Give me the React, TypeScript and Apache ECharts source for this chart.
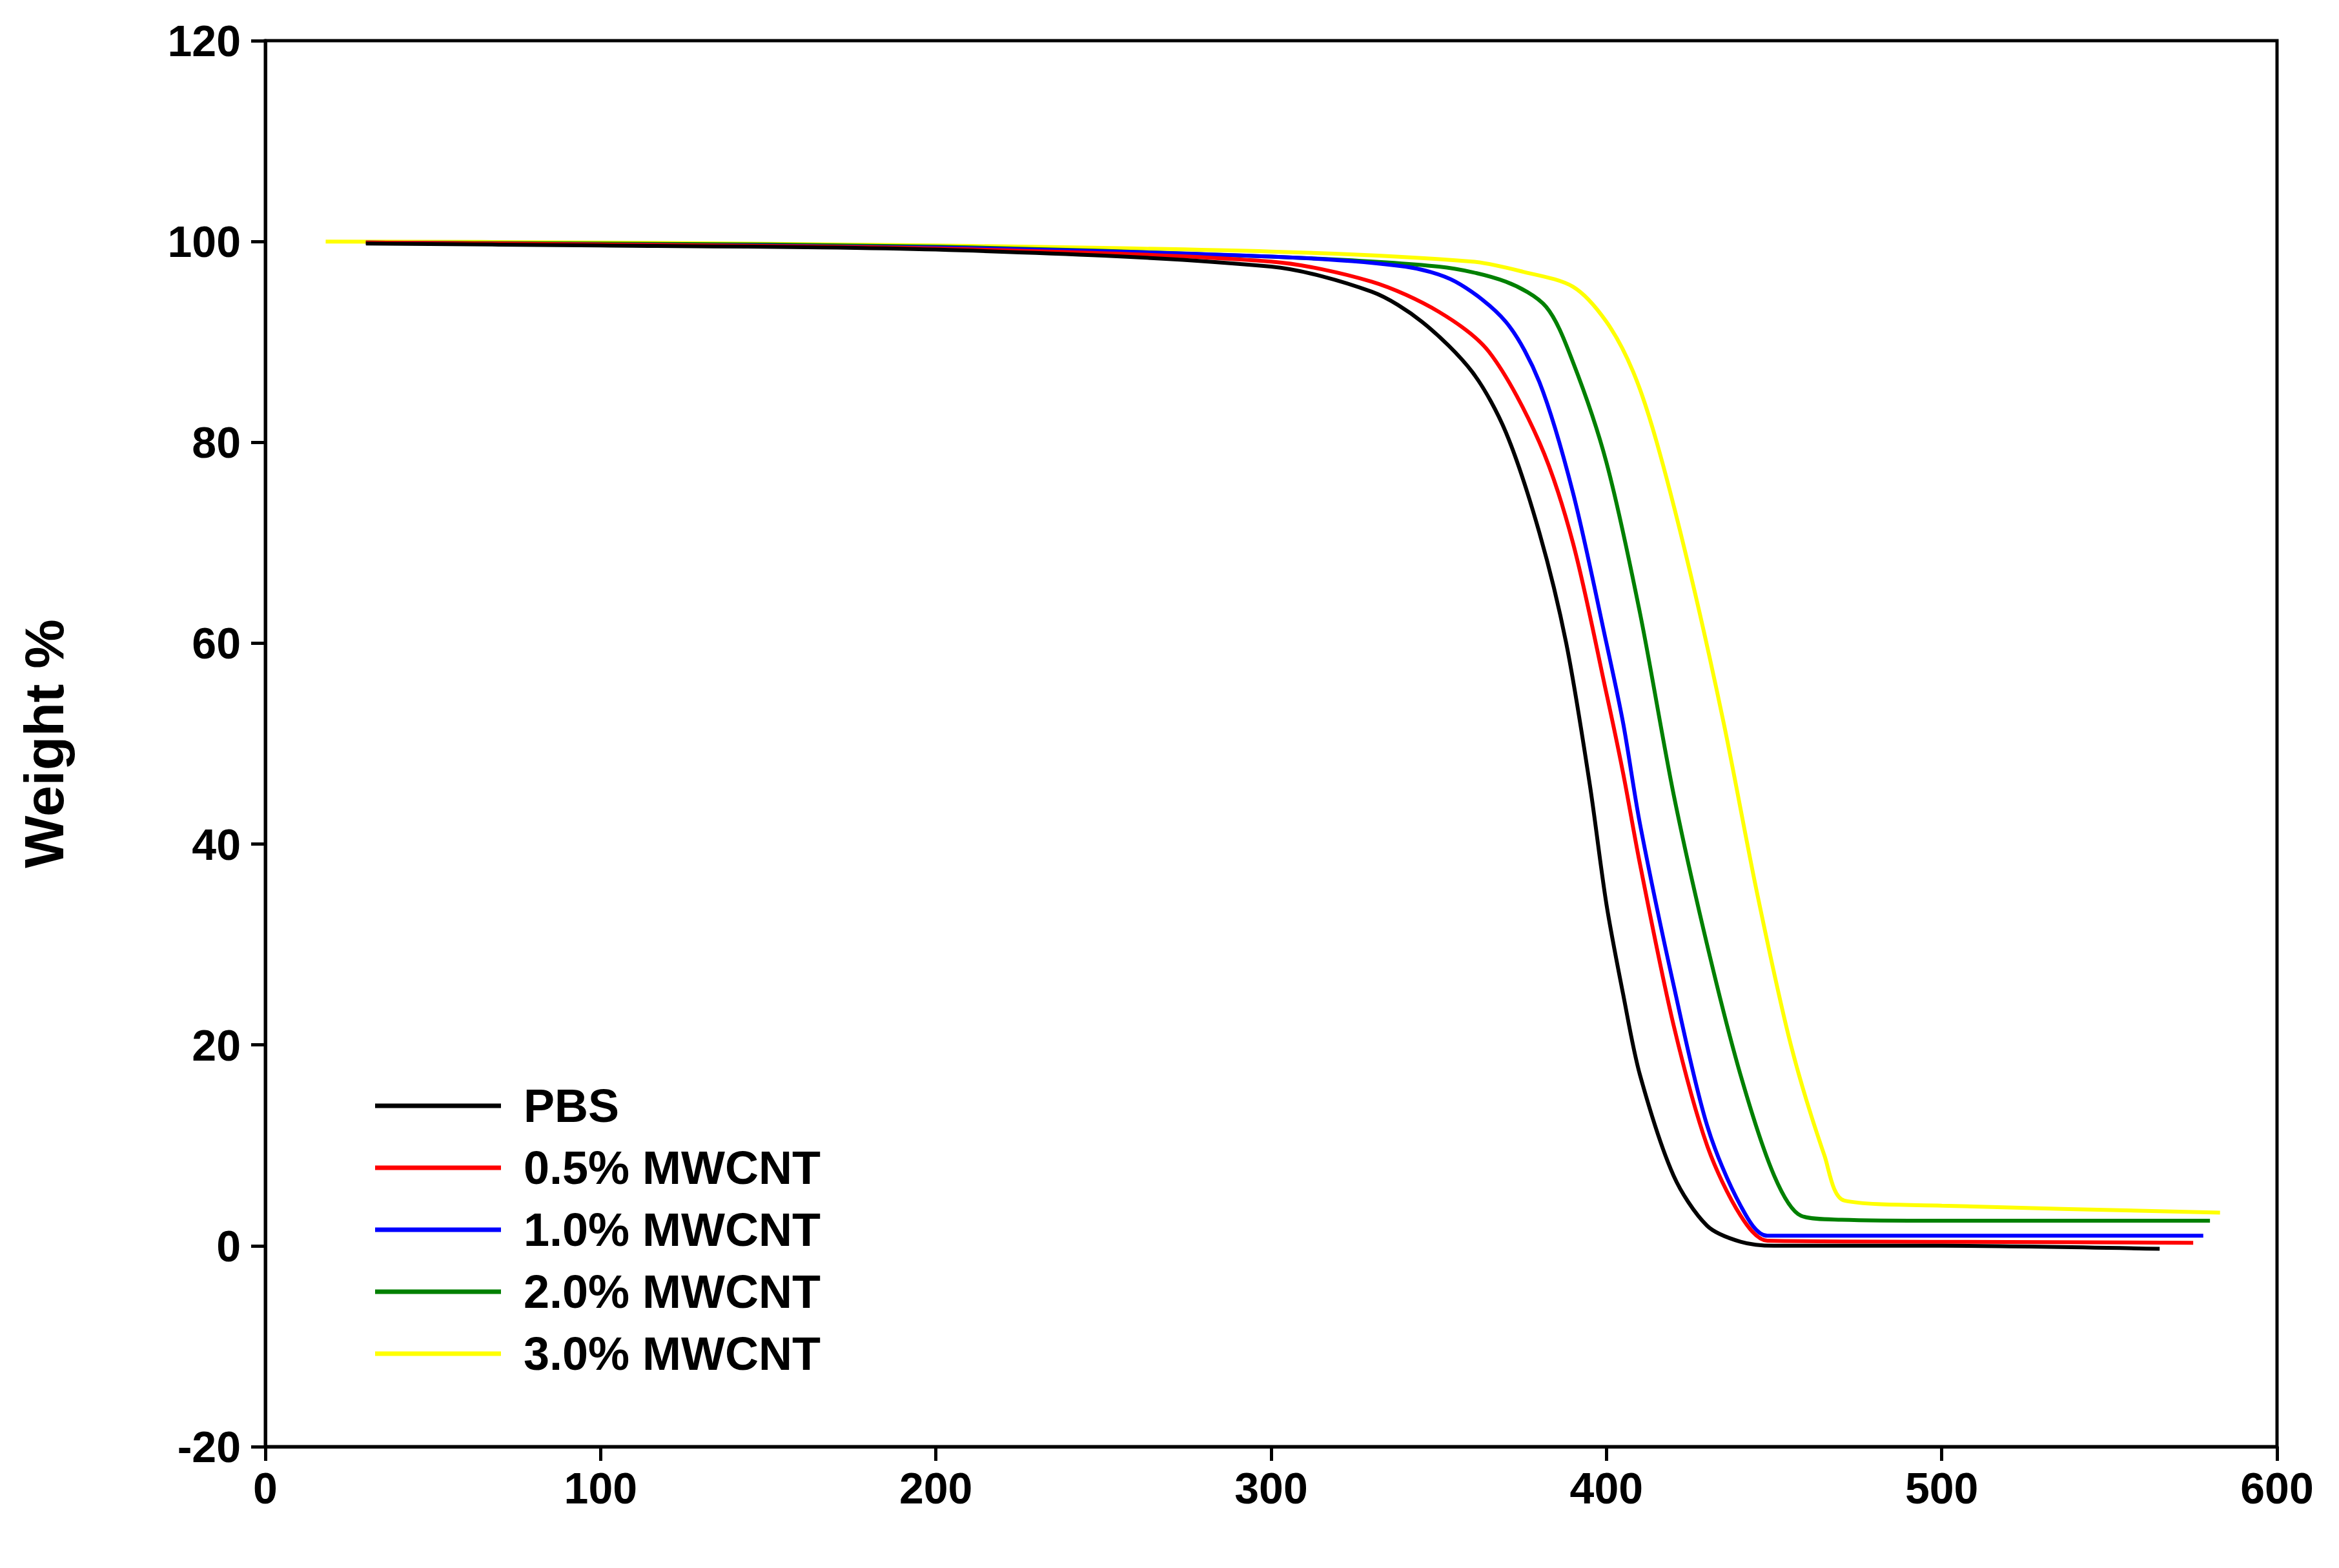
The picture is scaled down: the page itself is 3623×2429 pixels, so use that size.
import { useEffect, useRef } from 'react';
import * as echarts from 'echarts';

const seriesNames = ['PBS', '0.5% MWCNT', '1.0% MWCNT', '2.0% MWCNT', '3.0% MWCNT'];
const seriesColors = ['#000000', '#ff0000', '#0000ff', '#008000', '#ffff00'];

// [temperature, weight %]
const pbs = [
  [30, 99.8], [100, 99.6], [200, 99.2], [300, 97.5], [330, 95], [345, 92], [360, 87], [370, 81],
  [380, 71], [388, 60], [395, 46], [400, 34], [405, 25], [410, 17], [420, 7], [430, 2],
  [440, 0.4], [450, 0], [500, 0], [565, -0.3],
];
const mw05 = [
  [30, 99.9], [100, 99.7], [200, 99.3], [300, 98], [330, 96], [350, 93], [365, 89], [380, 80],
  [390, 70], [400, 55], [405, 47], [410, 38], [420, 22], [430, 10], [440, 3], [448, 0.5],
  [500, 0.4], [575, 0.3],
];
const mw10 = [
  [30, 99.9], [100, 99.7], [200, 99.4], [300, 98.5], [340, 97.5], [355, 96], [370, 92], [380, 86],
  [390, 75], [400, 60], [405, 52], [410, 42], [420, 26], [430, 12], [440, 4], [448, 1],
  [500, 1], [578, 1],
];
const mw20 = [
  [30, 99.9], [100, 99.8], [200, 99.5], [300, 98.5], [350, 97.5], [370, 96], [382, 93.5], [390, 88],
  [400, 78], [410, 63], [420, 45], [430, 30], [440, 17], [450, 7], [458, 3], [470, 2.6],
  [500, 2.5], [580, 2.5],
];
const mw30 = [
  [18, 100], [100, 99.9], [200, 99.6], [300, 99], [360, 98], [375, 97], [390, 95.5], [400, 92],
  [408, 87], [415, 80], [425, 67], [435, 52], [445, 35], [455, 20], [465, 9], [471, 4.5],
  [500, 4], [583, 3.3],
];
const seriesData = [pbs, mw05, mw10, mw20, mw30];

const font = 'Arial, "Liberation Sans", sans-serif';

export default function App() {
  const ref = useRef<HTMLDivElement>(null);

  useEffect(() => {
    document.body.style.margin = '0';
    if (!ref.current) return;
    const chart = echarts.init(ref.current, null, { renderer: 'svg' });
    const label = { color: '#000', fontSize: 68, fontWeight: 'bold' as const, fontFamily: font };
    chart.setOption({
      animation: false,
      backgroundColor: '#fff',
      grid: { left: 411, right: 96, top: 63, bottom: 188, show: true, borderColor: '#000', borderWidth: 5 },
      legend: {
        orient: 'vertical',
        left: 576,
        top: 1672,
        itemWidth: 195,
        itemHeight: 7,
        itemGap: 24,
        icon: 'rect',
        textStyle: { color: '#000', fontSize: 72, fontWeight: 'bold', fontFamily: font, padding: [0, 0, 0, 30] },
        data: seriesNames,
      },
      xAxis: {
        type: 'value', min: 0, max: 600, interval: 100,
        axisLine: { show: true, onZero: false, lineStyle: { color: '#000', width: 5 } },
        axisTick: { show: true, length: 22, lineStyle: { width: 5, color: '#000' } },
        axisLabel: { ...label, margin: 30 },
        splitLine: { show: false },
      },
      yAxis: {
        type: 'value', min: -20, max: 120, interval: 20,
        name: 'Weight %', nameLocation: 'middle', nameGap: 300,
        nameTextStyle: { color: '#000', fontSize: 86, fontWeight: 'bold', fontFamily: font },
        axisLine: { show: true, onZero: false, lineStyle: { color: '#000', width: 5 } },
        axisTick: { show: true, length: 22, lineStyle: { width: 5, color: '#000' } },
        axisLabel: { ...label, margin: 38 },
        splitLine: { show: false },
      },
      series: seriesNames.map((name, i) => ({
        name,
        type: 'line',
        data: seriesData[i],
        smooth: 0.3,
        showSymbol: false,
        symbol: 'none',
        color: seriesColors[i],
        lineStyle: { color: seriesColors[i], width: 6 },
        z: 10 - i,
      })),
    });
    return () => chart.dispose();
  }, []);

  return <div ref={ref} style={{ width: 3623, height: 2429 }} />;
}
